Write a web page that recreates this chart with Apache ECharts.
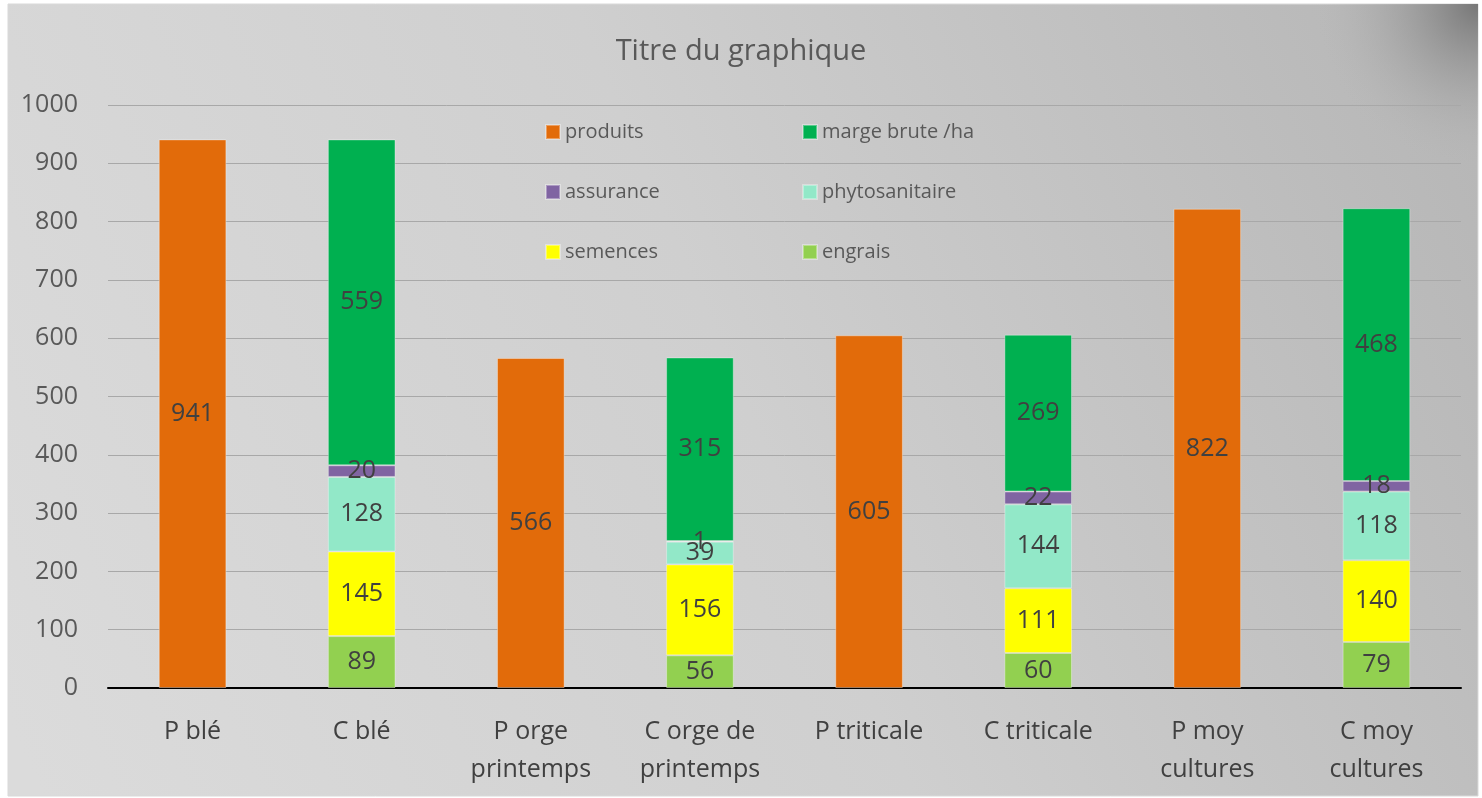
<!DOCTYPE html>
<html>
<head>
<meta charset="utf-8">
<script src="https://cdn.jsdelivr.net/npm/echarts@6/dist/echarts.min.js"></script>
<style>
  html, body { margin: 0; padding: 0; background: #fff; }
  #main { width: 1482px; height: 798px; }
</style>
</head>
<body>
<div id="main"></div>
<script>
var categories = ['P blé', 'C blé', 'P orge\nprintemps', 'C orge de\nprintemps', 'P triticale', 'C triticale', 'P moy\ncultures', 'C moy\ncultures'];
var produits = [941, '-', 566, '-', 605, '-', 822, '-'];
var engrais = ['-', 89, '-', 56, '-', 60, '-', 79];
var semences = ['-', 145, '-', 156, '-', 111, '-', 140];
var phytosanitaire = ['-', 128, '-', 39, '-', 144, '-', 118];
var assurance = ['-', 20, '-', 1, '-', 22, '-', 18];
var margeBrute = ['-', 559, '-', 315, '-', 269, '-', 468];
var yTicks = { min: 0, max: 1000, interval: 100 };

var font = '"Open Sans", "Noto Sans", sans-serif';

function barSeries(name, data, color) {
  return {
    name: name,
    type: 'bar',
    stack: 'total',
    barWidth: '40%',
    data: data,
    itemStyle: { color: color, borderColor: 'rgba(255,255,255,0.35)', borderWidth: 1 },
    label: {
      show: true,
      position: 'inside',
      color: '#404040',
      fontSize: 25,
      fontFamily: font
    }
  };
}

var myChart = echarts.init(document.getElementById('main'));

var option = {
  animation: false,
  backgroundColor: '#ffffff',
  graphic: [
    {
      type: 'rect',
      z: -10,
      shape: { x: 8, y: 4, width: 1470, height: 792 },
      style: {
        stroke: '#d9d9d9',
        lineWidth: 1,
        fill: {
          type: 'linear', x: 0, y: 0.9, x2: 1, y2: 0.1,
          colorStops: [
            { offset: 0, color: '#dbdbdb' },
            { offset: 0.5, color: '#cfcfcf' },
            { offset: 1, color: '#b6b6b6' }
          ]
        }
      }
    },
    {
      type: 'rect',
      z: -9,
      shape: { x: 1298, y: 4, width: 180, height: 180 },
      style: {
        fill: {
          type: 'radial', x: 1, y: 0, r: 0.9,
          colorStops: [
            { offset: 0, color: 'rgba(115,115,115,0.95)' },
            { offset: 0.6, color: 'rgba(160,160,160,0.45)' },
            { offset: 1, color: 'rgba(182,182,182,0)' }
          ]
        }
      }
    }
  ],
  title: {
    text: 'Titre du graphique',
    left: 'center',
    top: 32,
    textStyle: { color: '#595959', fontSize: 29, fontWeight: 'normal', fontFamily: font }
  },
  legend: [
    {
      orient: 'vertical',
      left: 540,
      top: 117,
      itemGap: 40,
      itemWidth: 14,
      itemHeight: 14,
      icon: 'rect',
      textStyle: { color: '#595959', fontSize: 20, fontFamily: font },
      data: ['produits', 'assurance', 'semences']
    },
    {
      orient: 'vertical',
      left: 797,
      top: 117,
      itemGap: 40,
      itemWidth: 14,
      itemHeight: 14,
      icon: 'rect',
      textStyle: { color: '#595959', fontSize: 20, fontFamily: font },
      data: ['marge brute /ha', 'phytosanitaire', 'engrais']
    }
  ],
  grid: { left: 108, right: 21, top: 105, bottom: 110, containLabel: false },
  xAxis: {
    type: 'category',
    data: categories,
    axisTick: { show: false },
    axisLine: { lineStyle: { color: '#000000', width: 2 } },
    axisLabel: { color: '#404040', fontSize: 25, fontFamily: font, margin: 25, lineHeight: 38 }
  },
  yAxis: {
    type: 'value',
    min: yTicks.min,
    max: yTicks.max,
    interval: yTicks.interval,
    axisLine: { show: false },
    axisTick: { show: false },
    axisLabel: {
      color: '#595959', fontSize: 25, fontFamily: font, margin: 30,
      formatter: function (v) { return String(v); }
    },
    splitLine: { lineStyle: { color: '#a8a8a8', width: 1 } }
  },
  series: [
    barSeries('produits', produits, '#e26b0a'),
    barSeries('engrais', engrais, '#92d050'),
    barSeries('semences', semences, '#ffff00'),
    barSeries('phytosanitaire', phytosanitaire, '#92e8c8'),
    barSeries('assurance', assurance, '#8064a2'),
    barSeries('marge brute /ha', margeBrute, '#00b050')
  ]
};

myChart.setOption(option);
</script>
</body>
</html>
